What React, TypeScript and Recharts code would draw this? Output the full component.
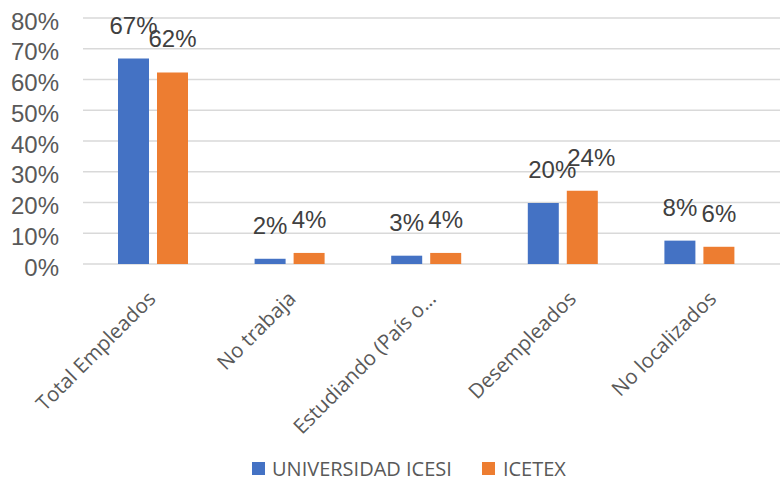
import React from 'react';
import { BarChart, Bar, XAxis, YAxis, CartesianGrid, Legend, LabelList } from 'recharts';

const categories = ['Total Empleados', 'No trabaja', 'Estudiando (País o…', 'Desempleados', 'No localizados'];
const icesi = [66.8, 1.7, 2.7, 19.8, 7.6];
const icetex = [62.3, 3.6, 3.6, 23.8, 5.6];
const yTicks = [0, 10, 20, 30, 40, 50, 60, 70, 80];

const data = categories.map((name, i) => ({ name, icesi: icesi[i], icetex: icetex[i] }));

const BLUE = '#4472C4';
const ORANGE = '#ED7D31';

// excel drifts the rotated labels a bit to the right as it goes
const AngledTick = (props: any) => {
  const { x, y, payload, index } = props;
  const ax = x + 3.5 + 3.6 * index;
  const ay = y + 36;
  return (
    <text
      x={ax}
      y={ay}
      transform={`rotate(-45 ${ax} ${ay})`}
      textAnchor="end"
      fill="#595959"
      fontSize={20.5}
      fontFamily="Open Sans"
    >
      {payload.value}
    </text>
  );
};

// value labels sit ~25px above the bar; the crowded Desempleados pair is nudged right
const ValueLabel = (props: any) => {
  const { x, y, width, value, index } = props;
  const nudge = index === 3 ? 9 : 0;
  return (
    <text
      x={x + width / 2 + nudge}
      y={y - 25}
      textAnchor="middle"
      fill="#404040"
      fontSize={24}
      fontFamily="Liberation Sans"
    >
      {`${Math.round(Number(value))}%`}
    </text>
  );
};

const LegendBox = () => (
  <div style={{ display: 'flex', alignItems: 'center', height: 24, paddingLeft: 252, fontFamily: 'Open Sans', fontSize: 20, color: '#595959' }}>
    <span style={{ width: 13, height: 13, background: BLUE, display: 'inline-block', marginRight: 7 }} />
    <span>UNIVERSIDAD ICESI</span>
    <span style={{ width: 13, height: 13, background: ORANGE, display: 'inline-block', marginLeft: 30, marginRight: 8 }} />
    <span>ICETEX</span>
  </div>
);

const App: React.FC = () => {
  return (
    <div style={{ width: 780, height: 482, background: '#fff' }}>
      <style>{'body{margin:0}'}</style>
      <BarChart width={780} height={482} data={data} margin={{ top: 18, right: 0, bottom: 2, left: 0 }} barSize={31} barGap={8}>
        <CartesianGrid vertical={false} stroke="#D9D9D9" strokeWidth={1.5} />
        <XAxis
          dataKey="name"
          axisLine={false}
          tickLine={false}
          tickSize={0}
          tickMargin={0}
          interval={0}
          height={192}
          padding={{ left: 2, right: 12 }}
          tick={<AngledTick />}
        />
        <YAxis
          domain={[0, 80]}
          ticks={yTicks}
          interval={0}
          tickFormatter={(v) => `${v}%`}
          axisLine={false}
          tickLine={false}
          tickSize={0}
          tickMargin={24}
          width={83}
          tick={{ fill: '#595959', fontSize: 24, fontFamily: 'Liberation Sans', dy: 3 }}
        />
        <Legend verticalAlign="bottom" height={24} content={<LegendBox />} />
        <Bar dataKey="icesi" name="UNIVERSIDAD ICESI" fill={BLUE} isAnimationActive={false}>
          <LabelList dataKey="icesi" content={<ValueLabel />} />
        </Bar>
        <Bar dataKey="icetex" name="ICETEX" fill={ORANGE} isAnimationActive={false}>
          <LabelList dataKey="icetex" content={<ValueLabel />} />
        </Bar>
      </BarChart>
    </div>
  );
};

export default App;
